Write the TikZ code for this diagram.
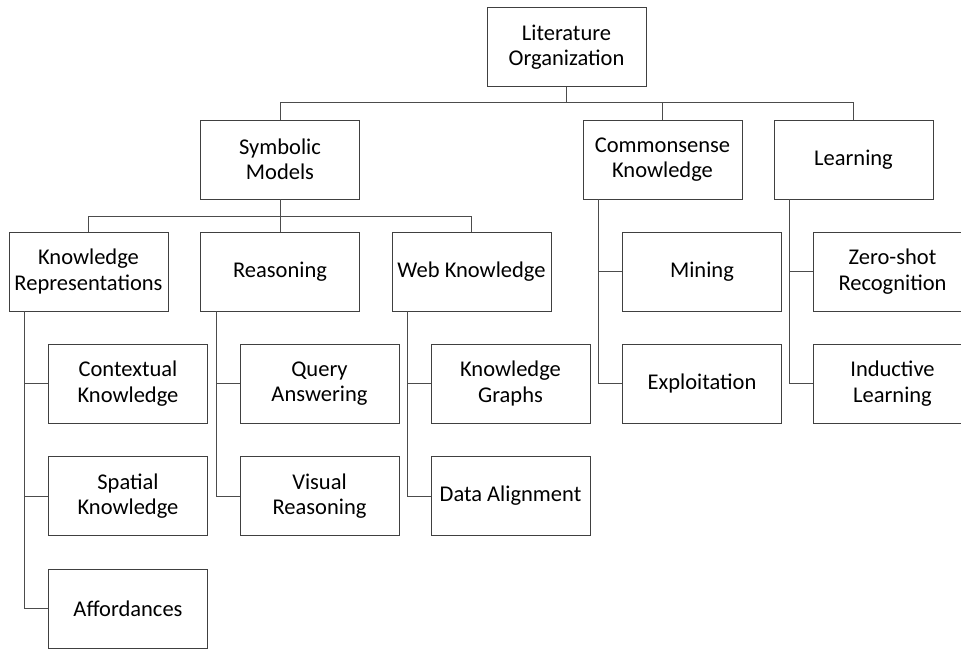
\documentclass[tikz,border=0pt]{standalone}
\usepackage{fontspec}
\setmainfont{Carlito}
\begin{document}
\begin{tikzpicture}[x=1pt, y=-1pt,
  box/.style={draw=black!75, line width=0.9pt, minimum width=159pt, minimum height=79pt,
    inner sep=0pt, align=center, font=\fontsize{22.5}{25.5}\selectfont},
  link/.style={draw=black!70, line width=0.9pt}]
\useasboundingbox (0,0) rectangle (961,652);

% top levels
\node[box] (root) at (566.5,47) {Literature\\Organization};
\node[box] (sym) at (280,159.5) {Symbolic\\Models};
\node[box] (com) at (662.5,159.5) {Commonsense\\Knowledge};
\node[box] (learn) at (853.5,159.5) {Learning};

\node[box] (kr) at (88.5,271.5) {Knowledge\\Representations};
\node[box] (reas) at (280,271.5) {Reasoning};
\node[box] (web) at (471.5,271.5) {Web Knowledge};

% leaves
\node[box] (ctx) at (128,383.5) {Contextual\\Knowledge};
\node[box] (spa) at (128,496) {Spatial\\Knowledge};
\node[box] (aff) at (128,608.5) {Affordances};
\node[box] (qa) at (319.5,383.5) {Query\\Answering};
\node[box] (vis) at (319.5,496) {Visual\\Reasoning};
\node[box] (kg) at (510.5,383.5) {Knowledge\\Graphs};
\node[box] (da) at (510.5,496) {Data Alignment};
\node[box] (min) at (702,271.5) {Mining};
\node[box] (exp) at (702,383.5) {Exploitation};
\node[box] (zero) at (892.5,271.5) {Zero-shot\\Recognition};
\node[box] (ind) at (892.5,383.5) {Inductive\\Learning};

% connectors
\coordinate (rj) at ([yshift=-16pt]root.south);
\draw[link] (root.south) -- (rj);
\draw[link] (sym.north) |- (rj) -| (learn.north);
\draw[link] (com.north) -- (com.north |- rj);

\coordinate (sj) at ([yshift=-17pt]sym.south);
\draw[link] (kr.north) |- (sj) -| (web.north);
\draw[link] (sym.south) -- (reas.north);

\foreach \p/\c in {kr/ctx, kr/spa, kr/aff, reas/qa, reas/vis, web/kg, web/da,
                   com/min, com/exp, learn/zero, learn/ind}
{
\draw[link] ([xshift=16pt]\p.south west) |- (\c.west);
}

\end{tikzpicture}
\end{document}
